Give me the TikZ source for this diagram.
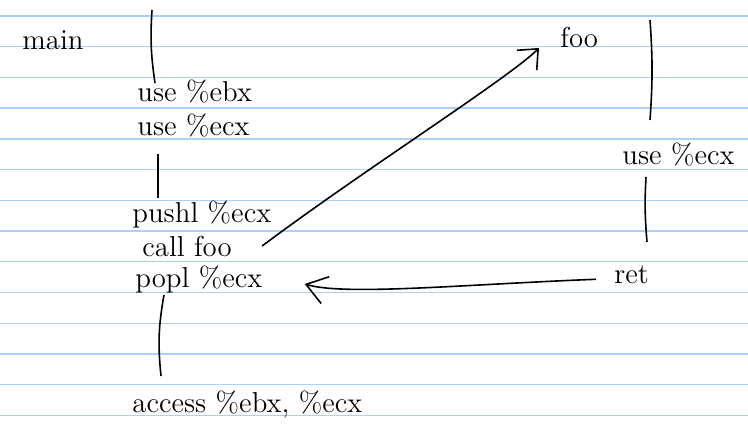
\documentclass[tikz,border=0pt]{standalone}
\usepackage{tikz}
\usetikzlibrary{arrows.meta}
\definecolor{ruleblue}{RGB}{170,210,248}

\begin{document}
\begin{tikzpicture}[
    x=0.5pt, y=-0.5pt,
    code/.style = {font=\Large, anchor=base west, inner sep=1pt},
    rule/.style = {draw=ruleblue, line width=0.7pt},
    life/.style = {line width=0.8pt},
    jump/.style = {-{Straight Barb[length=8pt, width=14pt]}, line width=0.8pt}
  ]
  % the page (pixel units, y grows downwards)
  \useasboundingbox[fill=white] (0,0) rectangle (748,427);
  \def\gap{30.72}
  \foreach \k in {0,...,13}
    \draw[rule] (0,{16+\gap*\k}) -- (748,{16+\gap*\k});

  % caller
  \node[code] (main)    at (20,50)   {main};
  \node[code] (ebx)     at (135,102) {use \%ebx};
  \node[code] (ecxa)    at (135,136) {use \%ecx};
  \node[code] (pushl)   at (130,222) {pushl \%ecx};
  \node[code] (callfoo) at (140,256) {call foo};
  \node[code] (popl)    at (133,287) {popl \%ecx};
  \node[code] (access)  at (130,412) {access \%ebx, \%ecx};

  % callee
  \node[code] (foo)  at (558,48)  {foo};
  \node[code] (ecxb) at (620,165) {use \%ecx};
  \node[code] (ret)  at (612,283) {ret};

  % time lines
  \coordinate (mtop) at (152,10);
  \coordinate (ftop) at (650,20);
  \draw[life] (mtop) to[bend right=6] ([xshift=10pt, yshift=-2.5pt]ebx.north west);
  \draw[life] ([xshift=11.5pt, yshift=-7pt]ecxa.south west) -- ([xshift=14pt]pushl.north west);
  \draw[life] ([xshift=15.5pt]popl.south west) to[bend right=8] ([xshift=15.5pt, yshift=6pt]access.north west);
  \draw[life] (ftop) to[bend left=4] ([xshift=15pt, yshift=10.5pt]ecxb.north west);
  \draw[life] ([xshift=13pt, yshift=-4pt]ecxb.south west) to[bend right=4] ([xshift=17.5pt, yshift=10.5pt]ret.north west);

  % control transfer
  \draw[jump] ([xshift=14pt]callfoo.east) .. controls +(100,-75) and +(-30,30) .. ([xshift=-9.5pt]foo.base west);
  \draw[jump, -{Straight Barb[length=10pt, width=14pt]}] ([xshift=-8pt, yshift=-2.5pt]ret.west)
    .. controls +(-130,5) and +(40,12) .. ([xshift=20pt, yshift=-2.5pt]popl.east);
\end{tikzpicture}
\end{document}
